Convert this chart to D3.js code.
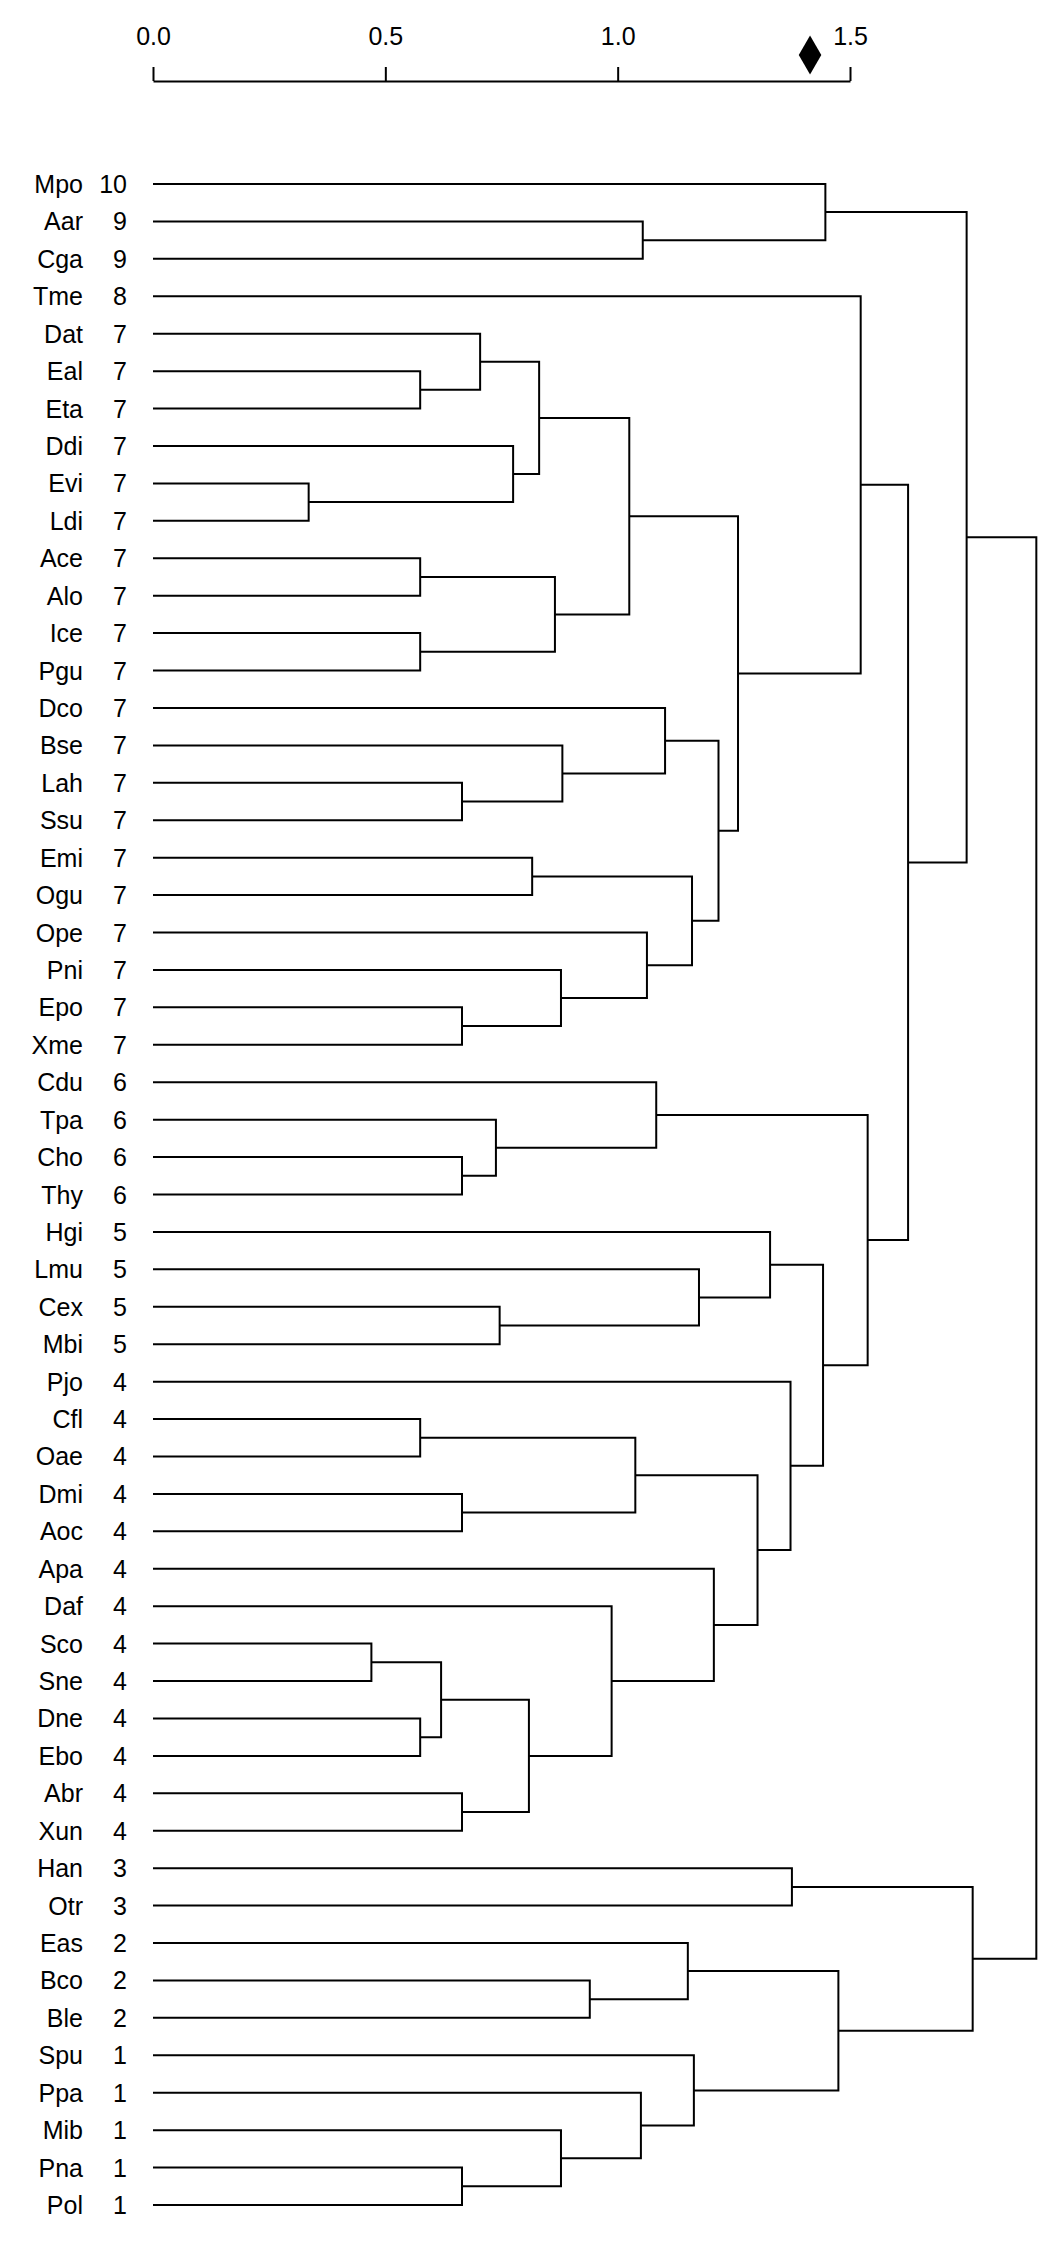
<!DOCTYPE html>
<html>
<head>
<meta charset="utf-8">
<script src="https://cdn.jsdelivr.net/npm/d3@7"></script>
<style>
    body { margin: 0; background: #fff; }
    svg { display: block; }
    .label { font-family: "Liberation Sans", Arial, sans-serif; font-size: 25px; fill: #000; }
    .axis text { font-family: "Liberation Sans", Arial, sans-serif; font-size: 25px; fill: #000; }
    .axis path, .axis line { stroke: #000; stroke-width: 2; }
    .branch { fill: none; stroke: #000; stroke-width: 2; }
</style>
</head>
<body>
<svg width="1051" height="2244"></svg>
<script>
// leaves, top to bottom
const leaves = ["Mpo","Aar","Cga","Tme","Dat","Eal","Eta","Ddi","Evi","Ldi","Ace","Alo","Ice","Pgu",
    "Dco","Bse","Lah","Ssu","Emi","Ogu","Ope","Pni","Epo","Xme","Cdu","Tpa","Cho","Thy",
    "Hgi","Lmu","Cex","Mbi","Pjo","Cfl","Oae","Dmi","Aoc","Apa","Daf","Sco","Sne","Dne","Ebo",
    "Abr","Xun","Han","Otr","Eas","Bco","Ble","Spu","Ppa","Mib","Pna","Pol"];

const groups = [10,9,9,8,7,7,7,7,7,7,7,7,7,7,
    7,7,7,7,7,7,7,7,7,7,6,6,6,6,
    5,5,5,5,4,4,4,4,4,4,4,4,4,4,4,
    4,4,3,3,2,2,2,1,1,1,1,1];

// merges: [left, right, height]  ("mN" = result of merge N)
const merges = [
    ["Aar","Cga",1.054], ["Mpo","m0",1.447],
    ["Eal","Eta",0.575], ["Dat","m2",0.704], ["Evi","Ldi",0.335], ["Ddi","m4",0.775],
    ["m3","m5",0.831], ["Ace","Alo",0.575], ["Ice","Pgu",0.575], ["m7","m8",0.865],
    ["m6","m9",1.025],
    ["Lah","Ssu",0.665], ["Bse","m11",0.881], ["Dco","m12",1.102],
    ["Emi","Ogu",0.816], ["Epo","Xme",0.665], ["Pni","m15",0.878], ["Ope","m16",1.063],
    ["m14","m17",1.160], ["m13","m18",1.217], ["m10","m19",1.259], ["Tme","m20",1.523],
    ["Cho","Thy",0.665], ["Tpa","m22",0.738], ["Cdu","m23",1.083],
    ["Cex","Mbi",0.746], ["Lmu","m25",1.175], ["Hgi","m26",1.328],
    ["Cfl","Oae",0.575], ["Dmi","Aoc",0.665], ["m28","m29",1.038],
    ["Sco","Sne",0.470], ["Dne","Ebo",0.575], ["m31","m32",0.620], ["Abr","Xun",0.665],
    ["m33","m34",0.809], ["Daf","m35",0.987], ["Apa","m36",1.207], ["m30","m37",1.301],
    ["Pjo","m38",1.372], ["m27","m39",1.442], ["m24","m40",1.538], ["m21","m41",1.625],
    ["m1","m42",1.751],
    ["Han","Otr",1.375], ["Bco","Ble",0.940], ["Eas","m45",1.151],
    ["Pna","Pol",0.665], ["Mib","m47",0.878], ["Ppa","m48",1.050], ["Spu","m49",1.164],
    ["m46","m50",1.475], ["m44","m51",1.764], ["m43","m52",1.901]
];

const axisTicks = [0, 0.5, 1.0, 1.5];
const cutValue = 1.414;   // diamond marker on the scale

const svg = d3.select("svg");

const x = d3.scaleLinear().domain([0, 1.5]).range([153, 850]);
const y = d3.scalePoint().domain(leaves).range([184, 2205]);

// build the tree from the merge list
const nodeOf = {};
leaves.forEach((name, i) => nodeOf[name] = { name: name, group: groups[i], height: 0 });
merges.forEach((m, i) => {
    nodeOf["m" + i] = { name: "m" + i, height: m[2], children: [nodeOf[m[0]], nodeOf[m[1]]] };
});
const root = d3.hierarchy(nodeOf["m" + (merges.length - 1)]);

// leaf rows come from the y scale, inner nodes sit midway between their children
root.eachAfter(d => {
    d.px = x(d.data.height);
    d.py = d.children ? (d.children[0].py + d.children[1].py) / 2 : y(d.data.name);
});

// scale on top
svg.append("g")
    .attr("class", "axis")
    .attr("transform", "translate(0,81)")
    .call(d3.axisTop(x)
        .tickValues(axisTicks)
        .tickFormat(d3.format(".1f"))
        .tickSize(14)
        .tickSizeOuter(0)
        .tickPadding(22));

svg.append("path")
    .attr("d", d3.symbol(d3.symbolDiamond, 440)())
    .attr("transform", `translate(${x(cutValue)},55)`)
    .attr("fill", "#000");

// elbow branches
const g = svg.append("g");
root.descendants().filter(d => d.children).forEach(d => {
    const [a, b] = d.children;
    g.append("path")
        .attr("class", "branch")
        .attr("d", `M${a.px},${a.py}H${d.px}V${b.py}H${b.px}`);
});

// leaf labels
const leafNodes = root.leaves();
svg.append("g").selectAll("text.name")
    .data(leafNodes)
    .enter().append("text")
    .attr("class", "label name")
    .attr("x", 83)
    .attr("y", d => d.py)
    .attr("dy", "0.36em")
    .attr("text-anchor", "end")
    .text(d => d.data.name);

svg.append("g").selectAll("text.num")
    .data(leafNodes)
    .enter().append("text")
    .attr("class", "label num")
    .attr("x", 127)
    .attr("y", d => d.py)
    .attr("dy", "0.36em")
    .attr("text-anchor", "end")
    .text(d => d.data.group);
</script>
</body>
</html>
